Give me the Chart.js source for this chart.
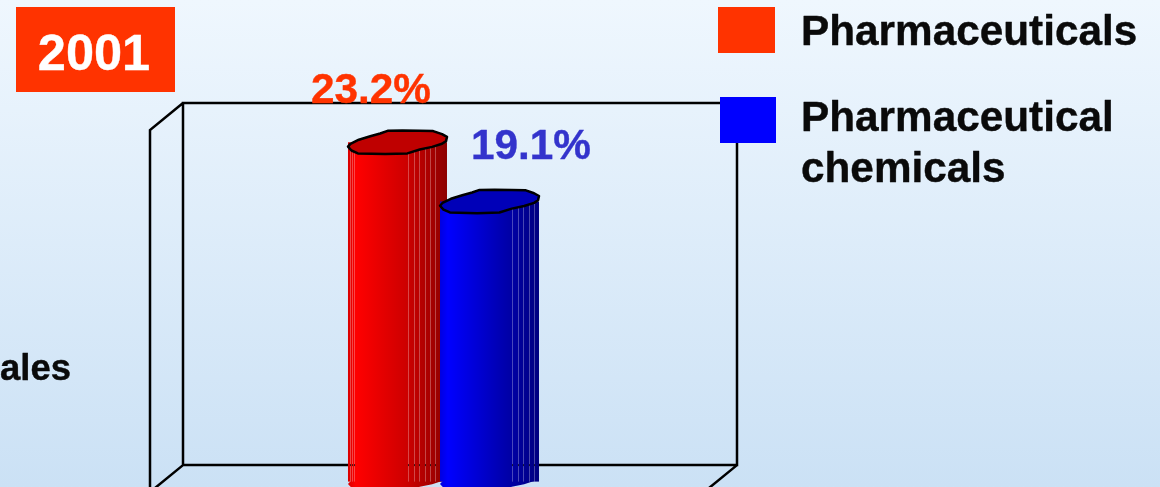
<!DOCTYPE html>
<html>
<head>
<meta charset="utf-8">
<style>
html, body { margin: 0; padding: 0; width: 1160px; height: 487px; overflow: hidden; background: linear-gradient(#eff7fe, #cbe1f5); }
canvas { display: block; }
</style>
<script src="https://cdn.jsdelivr.net/npm/chart.js@4"></script>
</head>
<body>
<div style="width:1160px;height:487px"><canvas id="myChart"></canvas></div>
<script>
const categories = ['2001'];
const seriesNames = ['Pharmaceuticals', 'Pharmaceutical chemicals'];
const seriesValues = [[23.2], [19.1]];
const yearLabel = '2001';
const sideLabel = 'ales';

const legendLines = [['Pharmaceuticals'], ['Pharmaceutical', 'chemicals']];
const FONT = 'bold 42.3px "Liberation Sans", Arial, sans-serif';

const categoryPct = 0.3135;
const barPct = 1.076;

// gradient and cap colours for each bar
const barColors = [
    { stops: ['#d80000', '#ff0000', '#cc0000', '#8c0000'], top: '#bf0000' },
    { stops: ['#0000e0', '#0000ff', '#0000b4', '#000080'], top: '#0000b8' }
];
const labelColors = ['#ff3300', '#3333cc'];
const swatchColors = ['#ff3300', '#0000ff'];

// lighter seams between the facets, as a fraction of the bar width
const seams = [
    [0.02, 0.04, 0.065, 0.61, 0.67, 0.72, 0.78, 0.83, 0.88],
    [0.73, 0.79, 0.84, 0.90, 0.95]
];
const capShape = [
    [-1, 0.36], [-0.95, 0.13], [-0.78, -0.22], [-0.55, -0.51], [-0.35, -0.74], [-0.2, -0.96],
    [0.1, -0.98], [0.45, -0.96], [0.72, -0.94], [0.9, -0.68], [1, -0.45], [0.98, -0.1],
    [0.9, 0.12], [0.7, 0.38], [0.45, 0.6], [0.2, 0.92], [-0.25, 0.98], [-0.8, 0.92], [-0.93, 0.68]
];
const labelOffsets = [[-26.5, -51.5], [41.5, -54]];

function barGradient(chart, i) {
    const x = chart.scales.x;
    const c = barColors[i].stops;
    const center0 = x ? x.getPixelForValue(0) : NaN;
    if (!Number.isFinite(center0) || !x.width) {
        return c[1]; // scales not laid out yet
    }
    const slot = x.width * categoryPct / 2;
    const center = center0 + (i - 0.5) * slot;
    const half = slot * barPct / 2;
    const g = chart.ctx.createLinearGradient(center - half, 0, center + half, 0);
    g.addColorStop(0, c[0]);
    g.addColorStop(0.08, c[1]);
    g.addColorStop(0.6, c[2]);
    g.addColorStop(1, c[3]);
    return g;
}

function capPath(ctx, cx, cy, rx, ry) {
    ctx.beginPath();
    capShape.forEach((p, n) => {
        if (n === 0) ctx.moveTo(cx + p[0] * rx, cy + p[1] * ry);
        else ctx.lineTo(cx + p[0] * rx, cy + p[1] * ry);
    });
    ctx.closePath();
}

// the source text is a little heavier than the bold face alone
function heavyText(ctx, text, x, y) {
    ctx.lineWidth = 0.4;
    ctx.strokeStyle = ctx.fillStyle;
    ctx.lineJoin = 'round';
    ctx.strokeText(text, x, y);
    ctx.fillText(text, x, y);
}

const sketchPlugin = {
    id: 'sketch',
    beforeDatasetDraw() {
        return false; // bars are drawn below, red first so blue sits in front
    },
    afterDatasetsDraw(chart) {
        const ctx = chart.ctx;
        const area = chart.chartArea;
        const depthX = 33, depthY = 27;

        ctx.save();
        ctx.strokeStyle = '#000';
        ctx.lineWidth = 2.5;
        ctx.lineJoin = 'miter';
        const backLeft = area.left + depthX;
        const backBottom = area.bottom - 11.5;
        ctx.beginPath();
        ctx.moveTo(backLeft, backBottom);
        ctx.lineTo(backLeft, area.top + 1);
        ctx.lineTo(area.right, area.top + 1);
        ctx.lineTo(area.right, backBottom);
        ctx.lineTo(backLeft, backBottom);
        ctx.moveTo(area.left, area.bottom + 20);
        ctx.lineTo(area.left, area.top + 1 + depthY);
        ctx.lineTo(backLeft, area.top + 1);
        ctx.moveTo(backLeft, backBottom);
        ctx.lineTo(area.left, backBottom + depthY);
        ctx.moveTo(area.right, backBottom);
        ctx.lineTo(area.right - depthX, backBottom + depthY);
        ctx.stroke();

        seriesNames.forEach((name, i) => {
            const el = chart.getDatasetMeta(i).data[0];
            const half = el.width / 2;
            const ry = 12;

            ctx.fillStyle = barGradient(chart, i);
            ctx.fillRect(el.x - half, el.base - 2, el.width, 7);
            capPath(ctx, el.x, el.base + 3, half, ry);
            ctx.fill();
            el.draw(ctx);

            ctx.lineWidth = 1;
            seams[i].forEach(f => {
                const sx = Math.round(el.x - half + f * el.width) + 0.5;
                ctx.strokeStyle = 'rgba(255, 255, 255, 0.28)';
                ctx.beginPath();
                ctx.moveTo(sx, el.y);
                ctx.lineTo(sx, el.base + 5);
                ctx.stroke();
                // the frame line shows through the gap between facets
                ctx.fillStyle = 'rgba(0, 0, 0, 0.7)';
                ctx.fillRect(sx - 0.5, backBottom - 1, 1, 2);
            });

            ctx.fillStyle = barColors[i].top;
            ctx.strokeStyle = '#000';
            ctx.lineWidth = 2.5;
            ctx.lineJoin = 'round';
            capPath(ctx, el.x, el.y, half, ry);
            ctx.fill();
            ctx.stroke();

            ctx.font = FONT;
            ctx.textAlign = 'center';
            ctx.textBaseline = 'middle';
            ctx.fillStyle = labelColors[i];
            heavyText(ctx, seriesValues[i][0].toFixed(1) + '%', el.x + labelOffsets[i][0], el.y + labelOffsets[i][1]);
        });

        // year box
        ctx.fillStyle = '#ff3300';
        ctx.fillRect(16, 7, 159, 85);
        ctx.fillStyle = '#fff';
        ctx.font = 'bold 50.5px "Liberation Sans", Arial, sans-serif';
        ctx.textAlign = 'center';
        ctx.textBaseline = 'alphabetic';
        heavyText(ctx, yearLabel, 94, 70);

        // legend
        ctx.fillStyle = swatchColors[0];
        ctx.fillRect(718, 7, 57, 46);
        ctx.fillStyle = swatchColors[1];
        ctx.fillRect(720, 97, 56, 46);
        ctx.fillStyle = '#0a0a0a';
        ctx.font = FONT;
        ctx.textAlign = 'left';
        heavyText(ctx, legendLines[0][0], 801, 45);
        heavyText(ctx, legendLines[1][0], 801, 131);
        heavyText(ctx, legendLines[1][1], 801, 182);

        ctx.font = 'bold 36.5px "Liberation Sans", Arial, sans-serif';
        ctx.textAlign = 'right';
        heavyText(ctx, sideLabel, 71, 380);
        ctx.restore();
    }
};

new Chart(document.getElementById('myChart'), {
    type: 'bar',
    data: {
        labels: categories,
        datasets: seriesNames.map((name, i) => ({
            label: name,
            data: seriesValues[i],
            backgroundColor: c => barGradient(c.chart, i),
            borderWidth: 0,
            categoryPercentage: categoryPct,
            barPercentage: barPct
        }))
    },
    options: {
        responsive: true,
        maintainAspectRatio: false,
        animation: false,
        layout: { padding: { left: 150, right: 423, top: 102, bottom: 10.4 } },
        plugins: { legend: { display: false }, tooltip: { enabled: false } },
        scales: {
            x: { display: false },
            y: { display: false, min: 0, max: 26 }
        }
    },
    plugins: [sketchPlugin]
});
</script>
</body>
</html>
